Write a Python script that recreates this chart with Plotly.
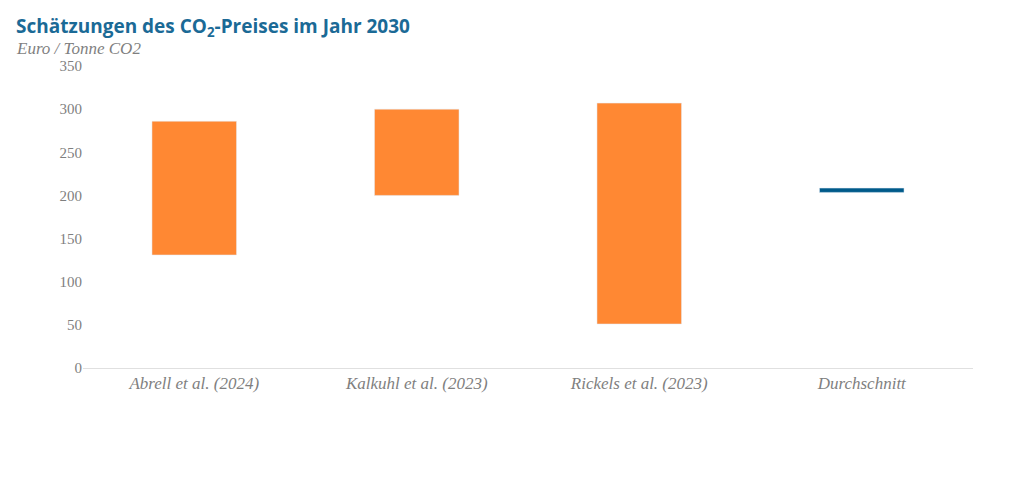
import plotly.graph_objects as go

categories = ["Abrell et al. (2024)", "Kalkuhl et al. (2023)", "Rickels et al. (2023)"]
low = [131, 200, 51]
high = [286, 300, 307]
avg_label = "Durchschnitt"
avg_value = 206
tick_vals = [0, 50, 100, 150, 200, 250, 300, 350]

fig = go.Figure()
fig.add_bar(x=categories, y=[h - l for h, l in zip(high, low)], base=low,
            marker_color="#FF8833", width=0.38, hoverinfo="skip")
fig.add_bar(x=[avg_label], y=[5], base=[avg_value - 2.5],
            marker_color="#005A8A", width=0.38, hoverinfo="skip")

fig.update_layout(
    width=1024, height=493, showlegend=False, barmode="overlay",
    plot_bgcolor="white", paper_bgcolor="white",
    margin=dict(l=75, r=59, t=58, b=133, autoexpand=False),
    font=dict(family="Liberation Serif", color="#7f7f7f", size=15),
    xaxis=dict(categoryorder="array", categoryarray=categories + [avg_label],
               showline=True, linecolor="#e0e0e0", tickfont=dict(size=17),
               ticks="", range=[-0.5, 3.5]),
    yaxis=dict(range=[0, 350], tickvals=tick_vals, showgrid=False, zeroline=False,
               ticks="", tickfont=dict(size=15)),
    annotations=[
        dict(text="<b>Schätzungen des CO<sub>2</sub>-Preises im Jahr 2030</b>",
             xref="paper", yref="paper", x=-0.0775, y=1.183, xanchor="left", yanchor="top",
             showarrow=False, font=dict(family="Open Sans", size=19, color="#1B6A96")),
        dict(text="<i>Euro / Tonne CO2</i>", xref="paper", yref="paper",
             x=-0.0775, y=1.095, xanchor="left", yanchor="top", showarrow=False,
             font=dict(family="Liberation Serif", size=17, color="#7f7f7f")),
    ],
)
fig.update_xaxes(tickprefix="<i>", ticksuffix="</i>")
fig.update_yaxes(tickprefix="<i>", ticksuffix="</i>")
fig.write_html("out.html")
